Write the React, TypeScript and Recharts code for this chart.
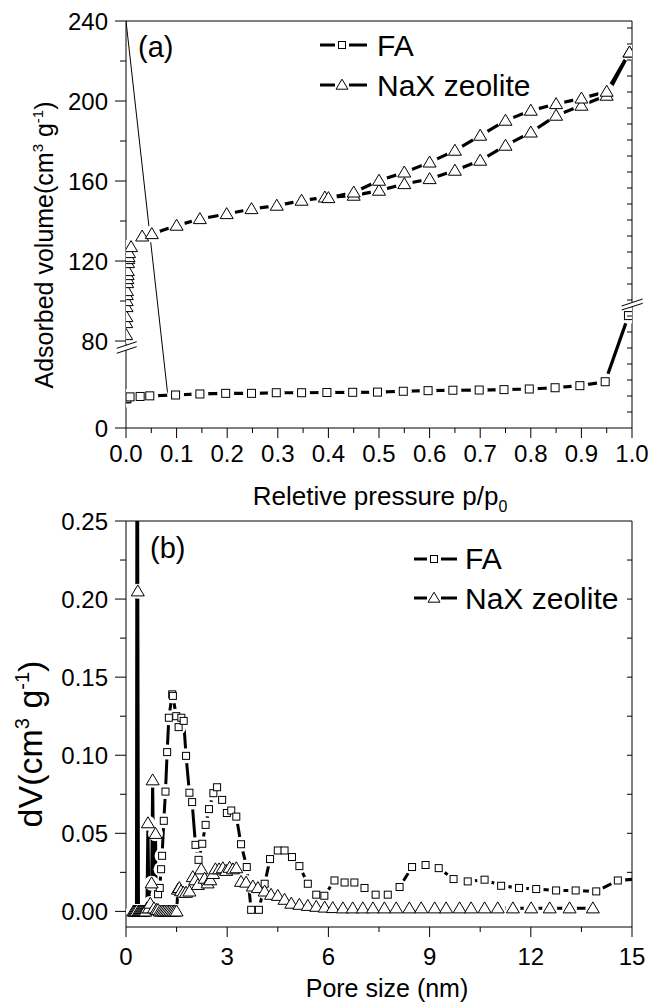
import React from "react";
import { LineChart, Line, XAxis, YAxis } from "recharts";

const FONT = '"Liberation Sans", Arial, Helvetica, sans-serif';

// ---- (a) N2 isotherms ----
const faPressure = [0.0005, 0.001, 0.002, 0.008, 0.028, 0.047, 0.098, 0.146, 0.197, 0.248, 0.297, 0.347, 0.397, 0.448, 0.497, 0.548, 0.597, 0.646, 0.698, 0.747, 0.797, 0.848, 0.897, 0.947, 0.993];
const faVolume = [14.0, 14.2, 14.3, 15.0, 15.2, 15.5, 15.9, 16.4, 16.7, 16.7, 17.0, 17.0, 17.1, 17.2, 17.3, 17.7, 18.0, 18.2, 18.3, 18.5, 18.8, 19.4, 20.4, 22.3, 92.7];

const naxAdsPressure = [0.0003, 0.0005, 0.0008, 0.001, 0.0013, 0.0016, 0.002, 0.0024, 0.0028, 0.0032, 0.0036, 0.004, 0.0045, 0.005, 0.006, 0.01, 0.032, 0.051, 0.1, 0.146, 0.199, 0.248, 0.298, 0.347, 0.393, 0.45, 0.5, 0.55, 0.6, 0.65, 0.7, 0.75, 0.8, 0.85, 0.9, 0.95, 0.995];
const naxAdsVolume = [83, 89, 92, 97, 100, 103, 105, 109, 111, 113, 115, 119, 121, 122, 124, 127, 132.3, 133.5, 137.7, 141, 143.5, 146, 147.7, 150.2, 151.8, 152.7, 155.2, 158.5, 161, 165.2, 170.2, 177.7, 184.3, 192.7, 197.7, 202.7, 224.3];

const naxDesPressure = [0.995, 0.95, 0.9, 0.85, 0.8, 0.75, 0.7, 0.65, 0.6, 0.55, 0.5, 0.45, 0.4];
const naxDesVolume = [224.3, 204.7, 201.3, 198.5, 195.2, 190.2, 182.7, 175.2, 169.3, 164.3, 160.2, 154.3, 151.5];

// thin stray line in the original figure
const guidePressure = [0, 0.083];
const guideVolume = [240, 15];

const volumeTickLabels = [0, 80, 120, 160, 200, 240];
const volumeMinorTicks = [100, 140, 180, 220];
const pressureTicks = [0, 0.1, 0.2, 0.3, 0.4, 0.5, 0.6, 0.7, 0.8, 0.9, 1.0];
const pressureMinorTicks = [0.05, 0.15, 0.25, 0.35, 0.45, 0.55, 0.65, 0.75, 0.85, 0.95];

// ---- (b) pore size distribution ----
const faPoreSize = [0.95, 1.0, 1.04, 1.07, 1.12, 1.17, 1.22, 1.27, 1.37, 1.39, 1.49, 1.56, 1.64, 1.71, 1.78, 1.88, 1.96, 2.06, 2.15, 2.26, 2.36, 2.46, 2.59, 2.7, 2.85, 2.99, 3.12, 3.27, 3.41, 3.58, 3.71, 3.94, 4.11, 4.27, 4.5, 4.7, 4.92, 5.14, 5.39, 5.64, 5.88, 6.18, 6.48, 6.77, 7.07, 7.4, 7.76, 8.11, 8.48, 8.88, 9.27, 9.71, 10.13, 10.63, 11.12, 11.65, 12.16, 12.75, 13.33, 13.94, 14.58, 15.3];
const faDv = [0.011, 0.015, 0.027, 0.0356, 0.058, 0.0767, 0.102, 0.124, 0.139, 0.138, 0.125, 0.118, 0.124, 0.122, 0.0996, 0.076, 0.07, 0.0426, 0.033, 0.0433, 0.0554, 0.0655, 0.0757, 0.0795, 0.0714, 0.063, 0.0646, 0.0607, 0.043, 0.0284, 0.001, 0.001, 0.0177, 0.0335, 0.039, 0.039, 0.0348, 0.029, 0.0177, 0.0107, 0.01, 0.0198, 0.0185, 0.0185, 0.015, 0.0107, 0.0107, 0.0156, 0.0284, 0.0297, 0.0277, 0.0207, 0.0192, 0.0203, 0.0164, 0.015, 0.0143, 0.0134, 0.0134, 0.0128, 0.0198, 0.021];

const naxPoreSize = [0.22, 0.25, 0.28, 0.31, 0.33, 0.35, 0.37, 0.4, 0.43, 0.46, 0.49, 0.52, 0.55, 0.58, 0.62, 0.65, 0.68, 0.72, 0.76, 0.79, 0.83, 0.875, 0.9, 0.95, 1.0, 1.05, 1.1, 1.15, 1.2, 1.25, 1.3, 1.35, 1.4, 1.45, 1.5, 1.54, 1.58, 1.63, 1.7, 1.78, 1.88, 1.98, 2.05, 2.13, 2.23, 2.33, 2.42, 2.5, 2.58, 2.65, 2.76, 2.87, 2.97, 3.07, 3.17, 3.27, 3.41, 3.56, 3.76, 3.91, 4.11, 4.3, 4.5, 4.7, 4.9, 5.14, 5.39, 5.64, 5.89, 6.13, 6.43, 6.72, 7.02, 7.32, 7.66, 8.01, 8.4, 8.75, 9.15, 9.49, 9.89, 10.23, 10.63, 11.02, 11.47, 12.01, 12.56, 13.15, 13.84];
const naxDv = [0, 0, 0, 0, 0.45, 0.205, 0, 0, 0, 0, 0, 0, 0, 0, 0.002, 0.0565, 0.002, 0.005, 0.018, 0.084, 0.002, 0.0497, 0.001, 0.001, 0, 0, 0, 0, 0, 0, 0, 0, 0, 0, 0, 0.014, 0.015, 0.013, 0.012, 0.012, 0.0128, 0.022, 0.02, 0.017, 0.027, 0.021, 0.018, 0.02, 0.024, 0.027, 0.027, 0.0277, 0.026, 0.028, 0.027, 0.0277, 0.019, 0.0185, 0.016, 0.015, 0.0128, 0.0107, 0.01, 0.0075, 0.005, 0.0043, 0.0036, 0.003, 0.0025, 0.0022, 0.002, 0.002, 0.002, 0.002, 0.002, 0.002, 0.002, 0.002, 0.002, 0.002, 0.002, 0.002, 0.002, 0.002, 0.002, 0.002, 0.002, 0.002, 0.002];

const sizeTicks = [0, 3, 6, 9, 12, 15];
const sizeMinorTicks = [1.5, 4.5, 7.5, 10.5, 13.5];
const dvTicks = [0, 0.05, 0.1, 0.15, 0.2, 0.25];
const dvMinorTicks = [0.025, 0.075, 0.125, 0.175, 0.225];

// broken y axis of (a): 0-40 below the break, 80-240 above it
const breakY = (v: number) => (v <= 40 ? v * 1.0375 : v - 36.5);

const toRows = (xs: number[], ys: number[], map = (v: number) => v) =>
  xs.map((x, i) => ({ x, y: map(ys[i]) }));

const faIso = toRows(faPressure, faVolume, breakY);
const naxAds = toRows(naxAdsPressure, naxAdsVolume, breakY);
const naxDes = toRows(naxDesPressure, naxDesVolume, breakY);
const guide = toRows(guidePressure, guideVolume, breakY);
const faPsd = toRows(faPoreSize, faDv);
const naxPsd = toRows(naxPoreSize, naxDv);

const near = (a: number, b: number) => Math.abs(a - b) < 1e-6;
const ok = (p: any) => Number.isFinite(p.cx) && Number.isFinite(p.cy);

// ---- markers ----
const coverDot = (r: number) => (p: any) =>
  ok(p) ? <circle key={`c-${p.index}`} cx={p.cx} cy={p.cy} r={r} fill="#fff" stroke="none" /> : <g key={`c-${p.index}`} />;

const squareDot = (s: number) => (p: any) =>
  ok(p) ? (
    <rect key={`s-${p.index}`} x={p.cx - s / 2} y={p.cy - s / 2} width={s} height={s} fill="#fff" stroke="#000" strokeWidth={1} />
  ) : <g key={`s-${p.index}`} />;

const triPath = (cx: number, cy: number, w: number, h: number) =>
  `M${cx},${cy - h * 0.58} L${cx + w / 2},${cy + h * 0.42} L${cx - w / 2},${cy + h * 0.42} Z`;

const triangleDot = (w: number, h: number) => (p: any) =>
  ok(p) ? (
    <path key={`t-${p.index}`} d={triPath(p.cx, p.cy, w, h)} fill="#fff" stroke="#000" strokeWidth={1} />
  ) : <g key={`t-${p.index}`} />;

// ---- ticks ----
const bottomTick = (majors: number[], fmt: (v: number) => string, labelDy: number) => (props: any) => {
  const { x, y, payload } = props;
  const major = majors.some((m) => near(m, payload.value));
  return (
    <g key={`b-${payload.value}`}>
      <line x1={x} x2={x} y1={y} y2={y + (major ? 10 : 5)} stroke="#000" strokeWidth={1} />
      {major && (
        <text x={x} y={y + labelDy} textAnchor="middle" fontSize={24} fontFamily={FONT} fill="#000">
          {fmt(payload.value)}
        </text>
      )}
    </g>
  );
};

const leftTick = (label: (v: number) => string | null) => (props: any) => {
  const { x, y, payload } = props;
  const text = label(payload.value);
  const len = text !== null ? 11 : 6;
  return (
    <g key={`l-${payload.value}`}>
      <line x1={x - len} x2={x} y1={y} y2={y} stroke="#000" strokeWidth={1} />
      {text !== null && (
        <text x={x - len - 7} y={y + 8.5} textAnchor="end" fontSize={24} fontFamily={FONT} fill="#000">
          {text}
        </text>
      )}
    </g>
  );
};

const topTick = (props: any) => (
  <line key={`t-${props.payload.value}`} x1={props.x} x2={props.x} y1={props.y} y2={props.y + 5} stroke="#000" strokeWidth={1} />
);
const rightTick = (props: any) => (
  <line key={`r-${props.payload.value}`} x1={props.x - 5} x2={props.x} y1={props.y} y2={props.y} stroke="#000" strokeWidth={1} />
);

const axisLine = { stroke: "#000", strokeWidth: 1 };
const tickless = { tickSize: 0, tickMargin: 0, tickLine: false, interval: 0 as const, axisLine };

const isoRightTicks = Array.from({ length: 25 }, (_, i) => (i + 1) * 8);
const psdTopTicks = Array.from({ length: 25 }, (_, i) => (i + 1) * 0.575);
const psdRightTicks = [0.025, 0.05, 0.075, 0.1, 0.125, 0.15, 0.175, 0.2, 0.225];

const volumeLabel = (u: number) => {
  const hit = volumeTickLabels.find((v) => near(breakY(v), u));
  return hit === undefined ? null : String(hit);
};
const dvLabel = (v: number) => (dvTicks.some((t) => near(t, v)) ? v.toFixed(2) : null);

const series = (key: string, data: any[], extra: any) => (
  <Line
    key={key}
    xAxisId="x"
    yAxisId="y"
    data={data}
    dataKey="y"
    type="linear"
    isAnimationActive={false}
    activeDot={false}
    {...extra}
  />
);

const IsothermChart = () => (
  <LineChart width={651} height={490} margin={{ top: 20, right: 18, left: 0, bottom: 0 }}>
    <XAxis xAxisId="x" type="number" dataKey="x" domain={[0, 1]} allowDataOverflow height={62}
      ticks={[...pressureTicks, ...pressureMinorTicks]} tick={bottomTick(pressureTicks, (v) => v.toFixed(1), 34)} {...tickless} />
    <XAxis xAxisId="top" orientation="top" type="number" domain={[0, 1]} allowDataOverflow height={1}
      ticks={pressureTicks.slice(1, -1)} tick={topTick} {...tickless} />
    <YAxis yAxisId="y" type="number" domain={[0, 203.5]} allowDataOverflow width={126}
      ticks={[...volumeTickLabels.map(breakY), ...volumeMinorTicks.map(breakY)]} tick={leftTick(volumeLabel)} {...tickless} />
    <YAxis yAxisId="right" orientation="right" type="number" domain={[0, 203.5]} allowDataOverflow width={1}
      ticks={isoRightTicks} tick={rightTick} {...tickless} />
    {series("fa-line", faIso, { stroke: "#000", strokeWidth: 3.2, dot: false })}
    {series("ads-line", naxAds, { stroke: "#000", strokeWidth: 3.2, dot: false })}
    {series("des-line", naxDes, { stroke: "#000", strokeWidth: 3.2, dot: false })}
    {series("fa-gap", faIso, { stroke: "none", dot: coverDot(8.5) })}
    {series("ads-gap", naxAds, { stroke: "none", dot: coverDot(8.5) })}
    {series("des-gap", naxDes, { stroke: "none", dot: coverDot(8.5) })}
    {series("guide", guide, { stroke: "#000", strokeWidth: 1, dot: false })}
    {series("fa-mark", faIso, { stroke: "none", dot: squareDot(8) })}
    {series("ads-mark", naxAds, { stroke: "none", dot: triangleDot(13, 11) })}
    {series("des-mark", naxDes, { stroke: "none", dot: triangleDot(13, 11) })}
  </LineChart>
);

const PoreChart = () => (
  <LineChart width={651} height={518} margin={{ top: 30, right: 18, left: 0, bottom: 0 }}>
    <XAxis xAxisId="x" type="number" dataKey="x" domain={[0, 15]} allowDataOverflow height={81}
      ticks={[...sizeTicks, ...sizeMinorTicks]} tick={bottomTick(sizeTicks, (v) => String(v), 38)} {...tickless} />
    <XAxis xAxisId="top" orientation="top" type="number" domain={[0, 15]} allowDataOverflow height={1}
      ticks={psdTopTicks} tick={topTick} {...tickless} />
    <YAxis yAxisId="y" type="number" domain={[-0.01, 0.25]} allowDataOverflow width={126}
      ticks={[...dvTicks, ...dvMinorTicks]} tick={leftTick(dvLabel)} {...tickless} />
    <YAxis yAxisId="right" orientation="right" type="number" domain={[-0.01, 0.25]} allowDataOverflow width={1}
      ticks={psdRightTicks} tick={rightTick} {...tickless} />
    {series("fa-line", faPsd, { stroke: "#000", strokeWidth: 3, dot: false })}
    {series("nax-line", naxPsd, { stroke: "#000", strokeWidth: 3, dot: false })}
    {series("fa-gap", faPsd, { stroke: "none", dot: coverDot(7.5) })}
    {series("nax-gap", naxPsd, { stroke: "none", dot: coverDot(7.5) })}
    {series("fa-mark", faPsd, { stroke: "none", dot: squareDot(7) })}
    {series("nax-mark", naxPsd, { stroke: "none", dot: triangleDot(13, 11) })}
  </LineChart>
);

const legendSymbol = (x0: number, x1: number, cx: number, y: number, marker: "square" | "triangle") => (
  <g>
    <line x1={x0} x2={x1} y1={y} y2={y} stroke="#000" strokeWidth={3} />
    <rect x={cx - 7} y={y - 7} width={14} height={14} fill="#fff" />
    {marker === "square" ? (
      <rect x={cx - 3.5} y={y - 3.5} width={7} height={7} fill="#fff" stroke="#000" strokeWidth={1} />
    ) : (
      <path d={triPath(cx, y, 12, 10)} fill="#fff" stroke="#000" strokeWidth={1} />
    )}
  </g>
);

const Overlay = () => (
  <svg width={651} height={1008} style={{ position: "absolute", left: 0, top: 0, pointerEvents: "none" }} fontFamily={FONT}>
    {/* axis breaks of (a) */}
    <polygon points="116.7,353.3 136.7,346.7 136.7,341.7 116.7,348.3" fill="#fff" />
    <line x1={116.7} y1={353.3} x2={136.7} y2={346.7} stroke="#000" strokeWidth={1} />
    <line x1={116.7} y1={348.3} x2={136.7} y2={341.7} stroke="#000" strokeWidth={1} />
    <polygon points="621.7,310 642.7,303.3 642.7,299 621.7,306" fill="#fff" />
    <line x1={621.7} y1={310} x2={642.7} y2={303.3} stroke="#000" strokeWidth={1} />
    <line x1={621.7} y1={306} x2={642.7} y2={299} stroke="#000" strokeWidth={1} />

    {/* panel letters */}
    <text x={138} y={57} fontSize={29}>(a)</text>
    <text x={150} y={558} fontSize={29}>(b)</text>

    {/* legends */}
    {legendSymbol(320, 367, 342, 45, "square")}
    <text x={377} y={56} fontSize={30}>FA</text>
    {legendSymbol(320, 367, 342, 85, "triangle")}
    <text x={377} y={96} fontSize={30}>NaX zeolite</text>

    {legendSymbol(414, 457, 434, 559, "square")}
    <text x={465} y={569} fontSize={30}>FA</text>
    {legendSymbol(414, 457, 434, 598, "triangle")}
    <text x={465} y={609} fontSize={30}>NaX zeolite</text>

    {/* axis titles */}
    <text transform="rotate(-90)" x={-245} y={53} textAnchor="middle" fontSize={25}>
      Adsorbed volume(cm<tspan dy={-10} fontSize={15}>3</tspan>
      <tspan dy={10}> g</tspan>
      <tspan dy={-10} fontSize={15}>-1</tspan>
      <tspan dy={10}>)</tspan>
    </text>
    <text x={380} y={505} textAnchor="middle" fontSize={26}>
      Reletive pressure p/p<tspan dy={7} fontSize={16}>0</tspan>
    </text>
    <text transform="rotate(-90)" x={-744} y={42} textAnchor="middle" fontSize={34}>
      dV(cm<tspan dy={-13} fontSize={20}>3</tspan>
      <tspan dy={13}> g</tspan>
      <tspan dy={-13} fontSize={20}>-1</tspan>
      <tspan dy={13}>)</tspan>
    </text>
    <text x={387} y={997} textAnchor="middle" fontSize={25}>Pore size (nm)</text>
  </svg>
);

export default function App() {
  return (
    <div style={{ position: "relative", width: 651, height: 1008, background: "#fff" }}>
      <style>{`body{margin:0;background:#fff}`}</style>
      <div style={{ position: "absolute", left: 0, top: 0 }}>
        <IsothermChart />
      </div>
      <div style={{ position: "absolute", left: 0, top: 490 }}>
        <PoreChart />
      </div>
      <Overlay />
    </div>
  );
}
